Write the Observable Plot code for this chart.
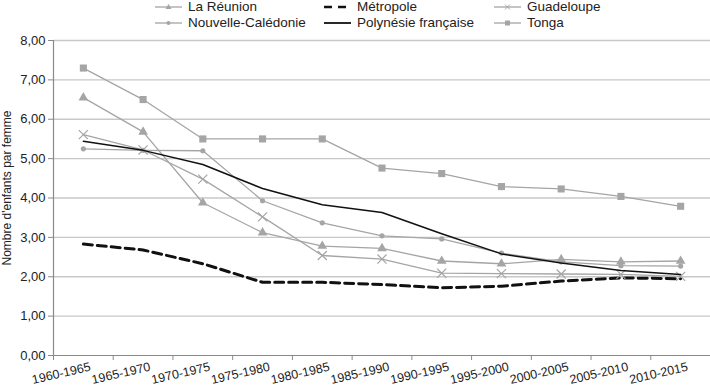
<!DOCTYPE html>
<html>
<head>
<meta charset="utf-8">
<script src="https://cdn.jsdelivr.net/npm/d3@7"></script>
<script src="https://cdn.jsdelivr.net/npm/@observablehq/plot@0.6"></script>
<style>
  body { margin: 0; background: #fff; font-family: "Liberation Sans", Arial, sans-serif; }
  #wrap { position: relative; width: 710px; height: 387px; overflow: hidden; }
  #legend { position: relative; width: 710px; height: 30px; }
  .item { position: absolute; height: 14px; line-height: 14px; font-size: 13.5px; color: #222; white-space: nowrap; }
  .item svg { position: absolute; top: 0; }
  #ylabel { position: absolute; left: 7px; top: 188px; transform: translate(-50%, -50%) rotate(-90deg); font-size: 12px; color: #222; white-space: nowrap; }
</style>
</head>
<body>
<div id="wrap">
  <div id="legend"></div>
  <div id="chart"></div>
  <div id="ylabel">Nombre d'enfants par femme</div>
</div>
<script>
const periods = ["1960-1965","1965-1970","1970-1975","1975-1980","1980-1985","1985-1990","1990-1995","1995-2000","2000-2005","2005-2010","2010-2015"];
const reunion    = [6.55, 5.68, 3.88, 3.12, 2.78, 2.72, 2.40, 2.33, 2.44, 2.38, 2.40];
const metropole  = [2.83, 2.68, 2.33, 1.86, 1.86, 1.80, 1.72, 1.76, 1.89, 1.97, 1.95];
const guadeloupe = [5.61, 5.22, 4.48, 3.52, 2.54, 2.45, 2.09, 2.08, 2.07, 2.06, 2.01];
const caledonie  = [5.25, 5.21, 5.20, 3.93, 3.37, 3.04, 2.96, 2.60, 2.38, 2.28, 2.27];
const polynesie  = [5.44, 5.21, 4.85, 4.24, 3.83, 3.63, 3.09, 2.58, 2.35, 2.16, 2.06];
const tonga      = [7.30, 6.50, 5.50, 5.50, 5.50, 4.76, 4.62, 4.29, 4.23, 4.04, 3.79];
const yTicks = [0, 1, 2, 3, 4, 5, 6, 7, 8];

const GRAY = "#a5a5a5";
const series = [
  {name: "La Réunion", values: reunion, stroke: GRAY, width: 1.3, symbol: "triangle", r: 3.6},
  {name: "Métropole", values: metropole, stroke: "#111", width: 3, dash: "9,5"},
  {name: "Guadeloupe", values: guadeloupe, stroke: GRAY, width: 1.3, symbol: "times", r: 4.2},
  {name: "Nouvelle-Calédonie", values: caledonie, stroke: GRAY, width: 1.3, symbol: "circle", r: 2.6},
  {name: "Polynésie française", values: polynesie, stroke: "#111", width: 1.5},
  {name: "Tonga", values: tonga, stroke: GRAY, width: 1.3, symbol: "square", r: 4}
];
const rows = series.map(s => s.values.map((v, i) => ({x: i + 0.5, y: v, name: s.name})));

// Legend
const legendPos = [
  {x: 155, y: 0}, {x: 324, y: 0}, {x: 494, y: 0},
  {x: 155, y: 16}, {x: 324, y: 16}, {x: 494, y: 16}
];
const legendOrder = ["La Réunion", "Métropole", "Guadeloupe", "Nouvelle-Calédonie", "Polynésie française", "Tonga"];
const legend = document.getElementById("legend");
legendOrder.forEach((nm, k) => {
  const s = series.find(d => d.name === nm);
  const p = legendPos[k];
  const div = document.createElement("div");
  div.className = "item";
  div.style.left = p.x + "px";
  div.style.top = p.y + "px";
  const sw = s.dash ? 24 : 27;
  let mk = "";
  const cx = sw / 2, cy = 7;
  if (s.symbol === "triangle") mk = `<path d="M${cx},${cy-3}L${cx+3},${cy+2}L${cx-3},${cy+2}Z" fill="${GRAY}"/>`;
  if (s.symbol === "circle") mk = `<circle cx="${cx}" cy="${cy}" r="2" fill="${GRAY}"/>`;
  if (s.symbol === "square") mk = `<rect x="${cx-2.5}" y="${cy-2.5}" width="5" height="5" fill="${GRAY}"/>`;
  if (s.symbol === "times") mk = `<path d="M${cx-2.5},${cy-2.5}L${cx+2.5},${cy+2.5}M${cx+2.5},${cy-2.5}L${cx-2.5},${cy+2.5}" stroke="${GRAY}" stroke-width="1"/>`;
  const lw = s.dash ? 2.5 : (s.stroke === GRAY ? 1.3 : 1.8);
  div.innerHTML = `<svg width="${sw}" height="14"><line x1="0" x2="${sw}" y1="7" y2="7" stroke="${s.stroke}" stroke-width="${lw}" ${s.dash ? 'stroke-dasharray="8,6"' : ''}/>${mk}</svg><span style="position:absolute;left:33px">${nm}</span>`;
  legend.appendChild(div);
});

const fmt = d => d.toFixed(2).replace(".", ",");
const marks = [
  Plot.gridY(yTicks.filter(d => d > 0), {stroke: "#c8c8c8", strokeOpacity: 1, strokeWidth: 1.4}),
  Plot.ruleX([0], {y1: 0, y2: 8, stroke: "#8a8a8a", strokeWidth: 1.2}),
  Plot.ruleY([0], {stroke: "#8a8a8a", strokeWidth: 1.2}),
  Plot.axisY(yTicks, {tickSize: 5, tickPadding: 3, tickFormat: fmt, fontSize: 13, stroke: "#8a8a8a", fill: "#222", label: null}),
  Plot.axisX(d3.range(12), {tickSize: 5, tickFormat: () => "", stroke: "#8a8a8a", label: null}),
  Plot.axisX(periods.map((p, i) => i + 0.5), {tickSize: 0, tickPadding: 0, tickFormat: d => periods[Math.floor(d)], tickRotate: -13, textAnchor: "end", lineAnchor: "bottom", dx: 8, dy: 15, fontSize: 12.5, fill: "#222", label: null})
];
series.forEach((s, k) => {
  marks.push(Plot.line(rows[k], {x: "x", y: "y", stroke: s.stroke, strokeWidth: s.width, strokeDasharray: s.dash, curve: "linear"}));
  if (s.symbol) {
    if (s.symbol === "times") {
      marks.push(Plot.dot(rows[k], {x: "x", y: "y", symbol: "times", r: s.r, stroke: GRAY, strokeWidth: 1.2}));
    } else {
      marks.push(Plot.dot(rows[k], {x: "x", y: "y", symbol: s.symbol, r: s.r, fill: GRAY, stroke: "none"}));
    }
  }
});

const chart = Plot.plot({
  width: 710,
  height: 357,
  marginLeft: 53,
  marginRight: 0,
  marginTop: 10,
  marginBottom: 32,
  style: {fontFamily: "Liberation Sans, Arial, sans-serif", background: "#fff", overflow: "visible"},
  x: {domain: [0, 11], axis: null},
  y: {domain: [0, 8], axis: null},
  marks
});
document.getElementById("chart").appendChild(chart);
</script>
</body>
</html>
